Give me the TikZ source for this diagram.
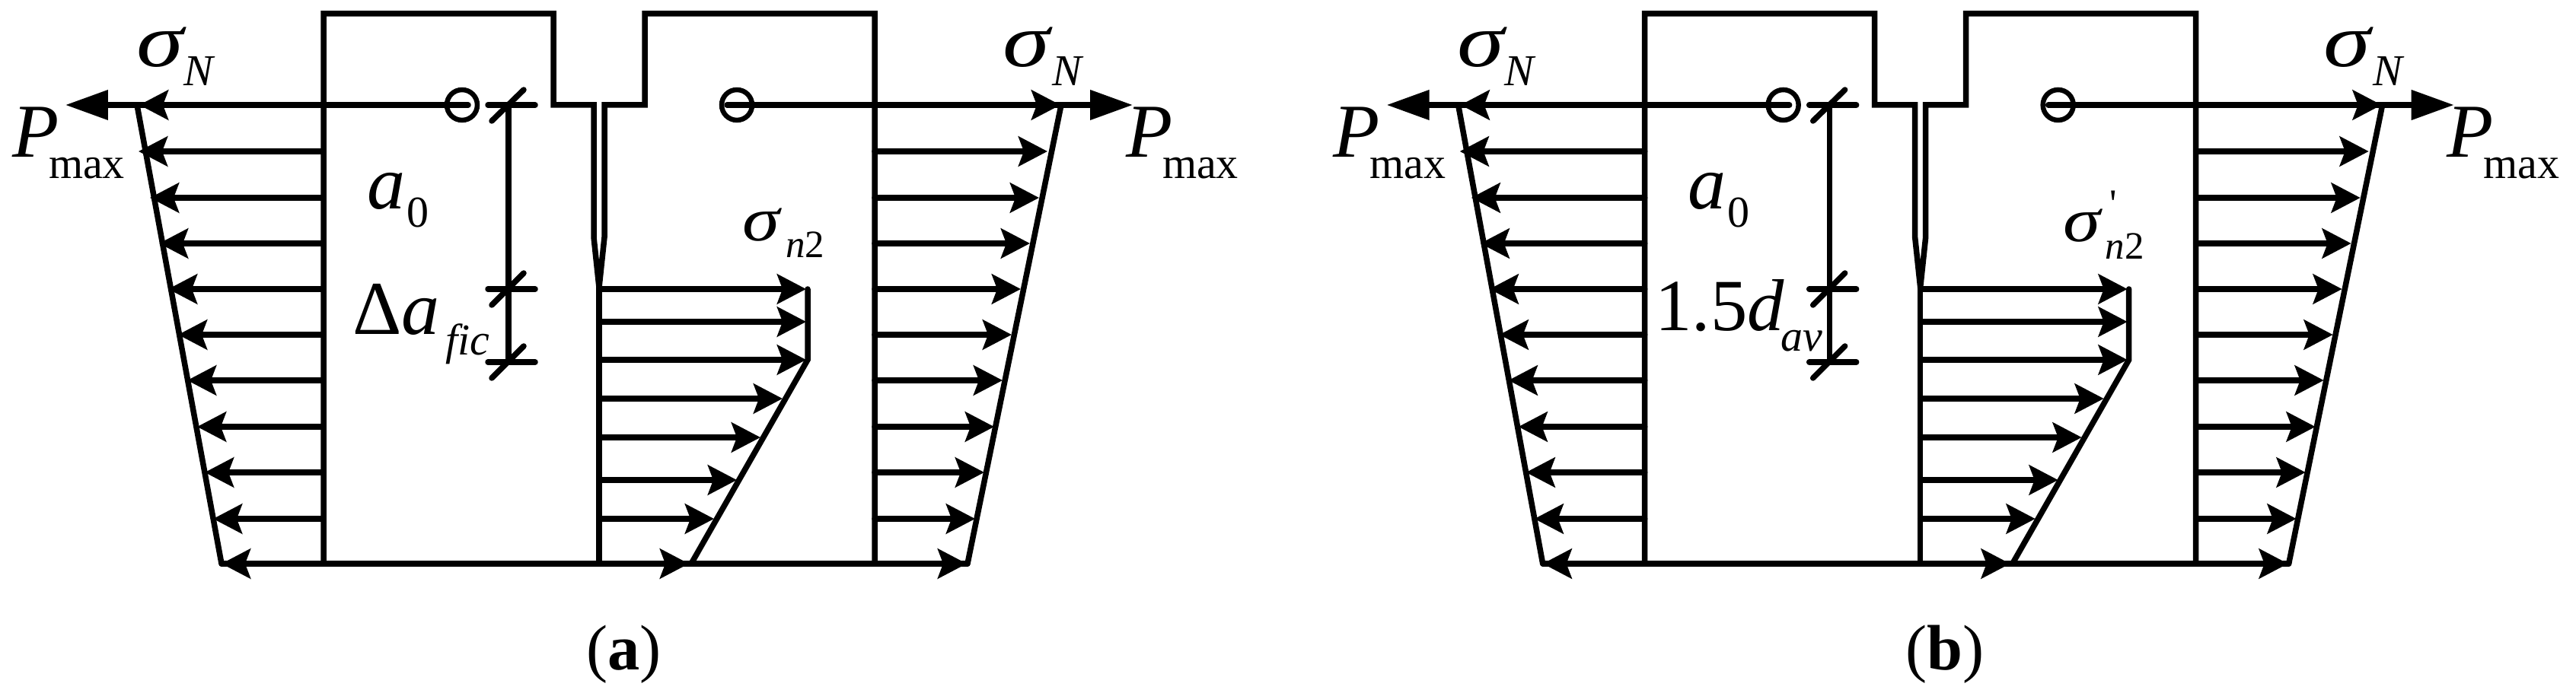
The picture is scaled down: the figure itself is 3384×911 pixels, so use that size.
\documentclass[tikz,border=0pt]{standalone}
\usepackage{fontspec}
\setmainfont{Liberation Serif}
\usetikzlibrary{arrows.meta}

\tikzset{
    wall/.style={line width=0.15cm,line cap=round,line join=miter},
    stress/.style={wall,-{Stealth[length=0.76cm,width=0.78cm,inset=0.14cm]}},
    load/.style={wall,-{Triangle[length=1.12cm,width=0.76cm]}},
    hole/.style={circle,draw=black,line width=0.13cm,minimum size=0.8cm,inner sep=0pt},
    lbl/.style={anchor=base west,inner sep=0pt,outer sep=0pt},
    bigsym/.style={lbl,font=\fontsize{57}{57}\selectfont\itshape},
    sigsym/.style={bigsym,xscale=1.25},
    midsym/.style={lbl,font=\fontsize{47}{47}\selectfont\itshape,xscale=1.2},
    subsym/.style={lbl,font=\fontsize{33}{33}\selectfont\itshape},
    subup/.style={lbl,font=\fontsize{33}{33}\selectfont},
    tinysym/.style={lbl,font=\fontsize{29}{29}\selectfont\itshape},
    panelname/.style={anchor=base,inner sep=0pt,font=\fontsize{48}{48}\selectfont}
}

% one specimen with its stress blocks, drawn at pixel coordinates
\newcommand{\specimen}{
    % outline of both halves
    \draw[wall] (425,741) -- (425,18) -- (727,18) -- (727,138) -- (780,138)
        -- (780,312) -- (787,378) -- (794,312) -- (794,138) -- (847,138)
        -- (847,18) -- (1149,18) -- (1149,741);
    \draw[wall] (787,378) -- (787,741);
    \draw[wall] (291,741) -- (1271,741);
    \node[hole] (holeL) at (607,138) {};
    \node[hole] (holeR) at (968,138) {};

    %%%%%%%%%%%%%%%%%%%%%%%%%%%%%%%%%%%
    % left side of the specimen
    \draw[load] (615,138) -- (86,138);
    \draw[stress] (425,138) -- (183,138);
    \draw[stress] (425,199) -- (182,199);
    \draw[stress] (425,260) -- (197,260);
    \draw[stress] (425,320) -- (209,320);
    \draw[stress] (425,380) -- (221,380);
    \draw[stress] (425,440) -- (234,440);
    \draw[stress] (425,500) -- (246,500);
    \draw[stress] (425,561) -- (259,561);
    \draw[stress] (425,621) -- (269,621);
    \draw[stress] (425,682) -- (280,682);
    \draw[stress] (425,741) -- (291,741);
    \draw[wall] (180,138) -- (291,741);
    %%%%%%%%%%%%%%%%%%%%%%%%%%%%%%%%%%%

    %%%%%%%%%%%%%%%%%%%%%%%%%%%%%%%%%%%
    % right side of the specimen
    \draw[load] (955,138) -- (1488,138);
    \draw[stress] (1149,138) -- (1393,138);
    \draw[stress] (1149,199) -- (1376,199);
    \draw[stress] (1149,260) -- (1365,260);
    \draw[stress] (1149,320) -- (1353,320);
    \draw[stress] (1149,380) -- (1341,380);
    \draw[stress] (1149,440) -- (1329,440);
    \draw[stress] (1149,500) -- (1317,500);
    \draw[stress] (1149,561) -- (1306,561);
    \draw[stress] (1149,621) -- (1293,621);
    \draw[stress] (1149,682) -- (1281,682);
    \draw[stress] (1149,741) -- (1270,741);
    \draw[wall] (1394,138) -- (1271,741);
    %%%%%%%%%%%%%%%%%%%%%%%%%%%%%%%%%%%

    %%%%%%%%%%%%%%%%%%%%%%%%%%%%%%%%%%%
    % stress ahead of the crack tip
    \draw[stress] (787,380) -- (1059,380);
    \draw[stress] (787,423) -- (1059,423);
    \draw[stress] (787,473) -- (1059,473);
    \draw[stress] (787,524) -- (1028,524);
    \draw[stress] (787,575) -- (999,575);
    \draw[stress] (787,631) -- (968,631);
    \draw[stress] (787,682) -- (938,682);
    \draw[stress] (787,741) -- (905,741);
    \draw[wall] (1061,380) -- (1061,473) -- (908,741);
    %%%%%%%%%%%%%%%%%%%%%%%%%%%%%%%%%%%

    % dimension line with its ticks
    \draw[wall] (668,138) -- (668,476);
    \draw[wall] (641,138) -- (703,138);
    \draw[wall] (641,380) -- (703,380);
    \draw[wall] (641,476) -- (703,476);
    \draw[wall] (646,159) -- (688,118);
    \draw[wall] (646,401) -- (688,359);
    \draw[wall] (646,497) -- (688,455);

    % labels found on both panels
    \node[sigsym] (sigmaL) at (179,88) {σ};
    \node[subsym] (sigmaLN) at (241,113) {N};
    \node[bigsym] (loadL) at (16,207) {P};
    \node[subup] (loadLmax) at (64,235) {max};
    \node[bigsym] (crackA) at (482,275) {a};
    \node[subup] (crackAzero) at (534,299) {0};
    \node[sigsym] (sigmaR) at (1317,88) {σ};
    \node[subsym] (sigmaRN) at (1382,113) {N};
    \node[bigsym] (loadR) at (1479,207) {P};
    \node[subup] (loadRmax) at (1527,235) {max};
}

\begin{document}
\begin{tikzpicture}[x=0.02cm,y=-0.02cm]
    \useasboundingbox (0,0) rectangle (3384,911);

    % panel a
    \specimen
    \node[bigsym,font=\fontsize{57}{57}\selectfont] (deltaA) at (463,440) {Δ\textit{a}};
    \node[subsym] (deltaAfic) at (585,467) {fic};
    \node[midsym] (sigmaNa) at (975,317) {σ};
    \node[tinysym] (sigmaNan) at (1032,339) {n\textup{2}};
    \node[panelname] (capA) at (819.5,880) {(\textbf{a})};

    % panel b
    \begin{scope}[xshift=34.72cm]
        \specimen
        \node[bigsym,font=\fontsize{55}{55}\selectfont] (lengthB) at (439,435) {1.5\textit{d}};
        \node[subsym] (lengthBav) at (604,462) {av};
        \node[midsym] (sigmaNb) at (975,318) {σ};
        \node[tinysym] (sigmaNbn) at (1030,341) {n\textup{2}};
        \node[tinysym,font=\fontsize{30}{30}\selectfont] (sigmaNbprime) at (1036,286) {\textquotesingle};
        \node[panelname] (capB) at (819.5,880) {(\textbf{b})};
    \end{scope}
\end{tikzpicture}
\end{document}
